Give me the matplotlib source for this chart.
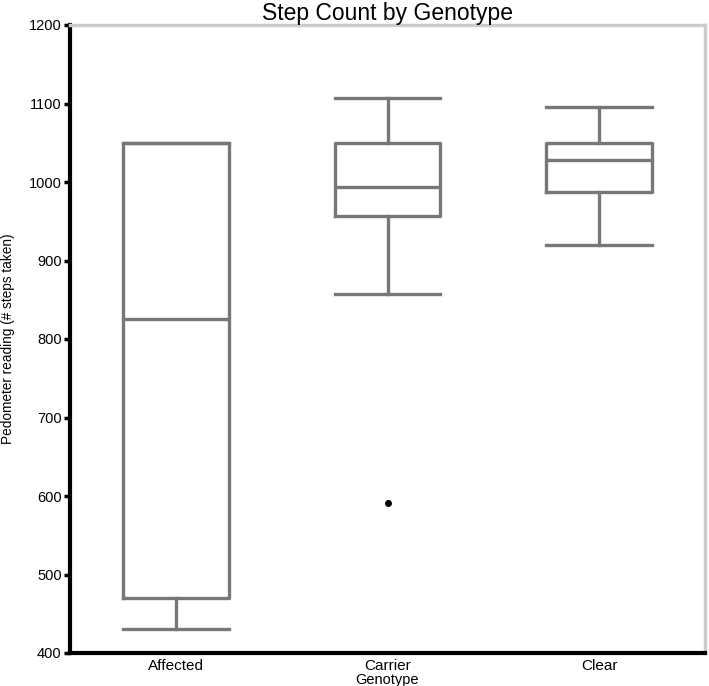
import numpy as np
import matplotlib.pyplot as plt

plt.rcParams['font.family'] = ['Liberation Sans', 'DejaVu Sans']

genotypes = ['Affected', 'Carrier', 'Clear']
whislo = [430, 857, 920]
q1 = [470, 957, 987]
med = [825, 993, 1028]
q3 = [1050, 1050, 1050]
whishi = [1050, 1107, 1095]
fliers = [[], [591], []]

stats = []
for i, g in enumerate(genotypes):
    stats.append({'label': g, 'whislo': whislo[i], 'q1': q1[i], 'med': med[i],
                  'q3': q3[i], 'whishi': whishi[i], 'fliers': fliers[i]})

fig = plt.figure(figsize=(7.09, 6.86), dpi=100)
ax = fig.add_axes([70/709, 33/686, 635/709, 628/686])

grey = '#777777'
lw = 2.4
ax.bxp(stats, positions=[0, 1, 2], widths=0.5, showcaps=True,
       boxprops=dict(color=grey, linewidth=lw),
       medianprops=dict(color=grey, linewidth=lw),
       whiskerprops=dict(color=grey, linewidth=lw),
       capprops=dict(color=grey, linewidth=lw),
       flierprops=dict(marker='o', markerfacecolor='black', markeredgecolor='black', markersize=4),
       capwidths=0.5)

ax.set_xlim(-0.5, 2.5)
ax.set_ylim(400, 1200)
ax.set_yticks(np.arange(400, 1201, 100))

for s in ['left', 'bottom']:
    ax.spines[s].set_color('black')
    ax.spines[s].set_linewidth(3)
for s in ['top', 'right']:
    ax.spines[s].set_color('#cccccc')
    ax.spines[s].set_linewidth(2.5)

ax.tick_params(axis='y', direction='out', length=4, width=2.5, labelsize=10.5, pad=2)
ax.tick_params(axis='x', length=0, labelsize=11, pad=4)

ax.set_ylabel('Pedometer reading (# steps taken)', fontsize=9.8, labelpad=10)
ax.set_xlabel('Genotype', fontsize=10.5, labelpad=0)
ax.set_title('Step Count by Genotype', fontsize=16.5, pad=3)

fig.savefig('out.png', dpi=100)
